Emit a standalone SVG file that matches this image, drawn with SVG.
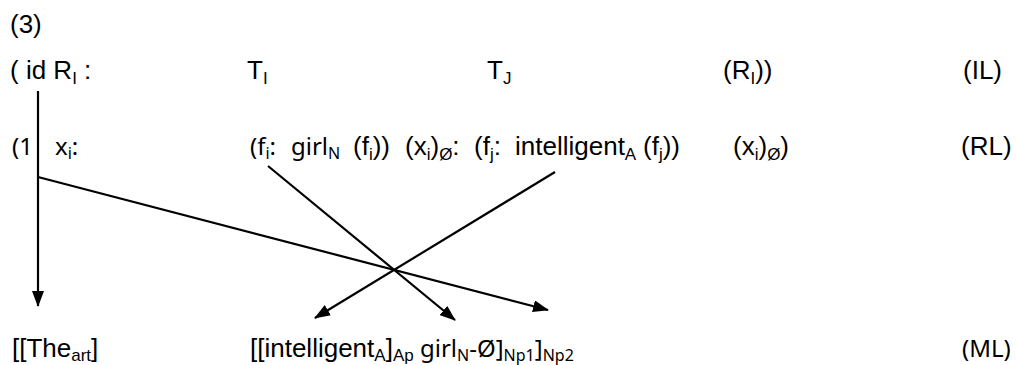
<svg xmlns="http://www.w3.org/2000/svg" width="1016" height="365" viewBox="0 0 1016 365">
<style>
text{font-family:"Liberation Sans",Arial,sans-serif;font-size:26px;fill:#000}
.alt{font-family:"Noto Sans","Open Sans",sans-serif;font-size:24px}
.s{font-size:17px}
.alt .s,.s.alt{font-size:16px}
.conn line{stroke:#000;stroke-width:2.2;fill:none}
</style>
<defs>
<marker id="ah" viewBox="0 0 16 12" refX="15" refY="6" markerWidth="16" markerHeight="12" markerUnits="userSpaceOnUse" orient="auto">
<path d="M0,0 L16,6 L0,12 Z" fill="#000"/>
</marker>
</defs>
<rect width="1016" height="365" fill="#fff"/>
<g id="num"><text x="10" y="33">(3)</text></g>
<g id="il-row">
<g id="il-id"><text x="10" y="79">( id R<tspan class="s" dy="5">I</tspan><tspan dy="-5"> :</tspan></text></g>
<g id="il-ti"><text x="247" y="79">T<tspan class="s" dy="5">I</tspan></text></g>
<g id="il-tj"><text x="487" y="79">T<tspan class="s" dy="5">J</tspan></text></g>
<g id="il-ri"><text x="723" y="79">(R<tspan class="s" dy="5">I</tspan><tspan dy="-5">))</tspan></text></g>
<g id="il-label"><text x="963" y="79">(IL)</text></g>
</g>
<g id="rl-row">
<g id="rl-one"><text class="alt" x="12" y="155">(1</text></g>
<g id="rl-xi"><text class="alt" x="55" y="155">x<tspan class="s" dy="4">i</tspan><tspan dy="-4">:</tspan></text></g>
<g id="rl-fi"><text class="alt" x="250" y="155">(f<tspan class="s" dy="4">i</tspan><tspan dy="-4">:</tspan></text><text class="alt" x="291" y="155">girl<tspan class="s" dy="4">N</tspan></text></g>
<g id="rl-fi2"><text x="353" y="155">(f<tspan class="s" dy="5">i</tspan><tspan dy="-5">))</tspan></text></g>
<g id="rl-xi2"><text x="405" y="155">(x<tspan class="s" dy="5">i</tspan><tspan dy="-5">)</tspan><tspan class="s" dy="5">Ø</tspan><tspan dy="-5">:</tspan></text></g>
<g id="rl-fj"><text x="474" y="155">(f<tspan class="s" dy="5">j</tspan><tspan dy="-5">:</tspan></text></g>
<g id="rl-int"><text x="515" y="155">intelligent<tspan class="s" dy="5">A</tspan></text></g>
<g id="rl-fj2"><text x="643" y="155">(f<tspan class="s" dy="5">j</tspan><tspan dy="-5">))</tspan></text></g>
<g id="rl-xi3"><text x="733" y="155">(x<tspan class="s" dy="5">i</tspan><tspan dy="-5">)</tspan><tspan class="s" dy="5">Ø</tspan><tspan dy="-5">)</tspan></text></g>
<g id="rl-label"><text x="961" y="155">(RL)</text></g>
</g>
<g id="ml-row">
<g id="ml-the"><text x="12" y="357">[[The<tspan class="s" dy="4">art</tspan><tspan dy="-4">]</tspan></text></g>
<g id="ml-np"><text x="250" y="357">[[intelligent<tspan class="s" dy="4">A</tspan><tspan dy="-4">]</tspan><tspan class="s" dy="4">Ap</tspan></text><text class="alt" x="420" y="357">girl<tspan class="s" dy="4">N</tspan><tspan dy="-4">-Ø]</tspan><tspan class="s" dy="4">Np1</tspan><tspan dy="-4">]</tspan><tspan class="s" dy="4">Np2</tspan></text></g>
<g id="ml-label"><text class="alt" x="962" y="357">(ML)</text></g>
</g>
<g id="connectors" class="conn">
<line x1="38" y1="91" x2="38" y2="306" marker-end="url(#ah)"/>
<line x1="38" y1="177" x2="548" y2="310" marker-end="url(#ah)"/>
<line x1="268" y1="166" x2="455" y2="320" marker-end="url(#ah)"/>
<line x1="555" y1="172" x2="315" y2="318" marker-end="url(#ah)"/>
</g>
</svg>
